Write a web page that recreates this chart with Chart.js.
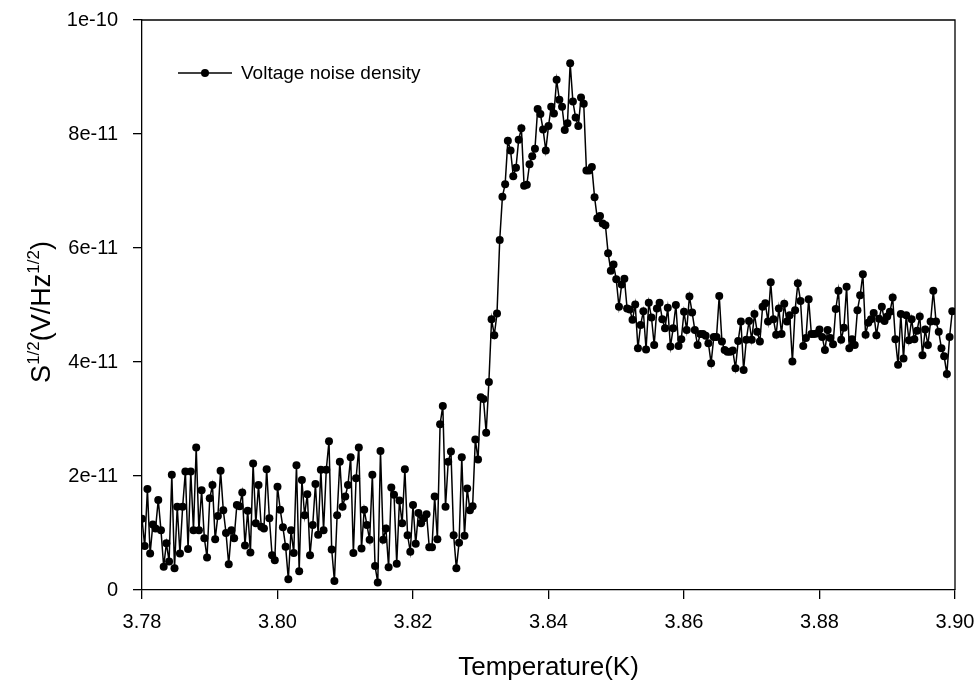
<!DOCTYPE html>
<html>
<head>
<meta charset="utf-8">
<script src="https://cdn.jsdelivr.net/npm/chart.js@4"></script>
<style>
	html, body { margin: 0; padding: 0; background: #ffffff; }
	#wrap { width: 980px; height: 684px; }
</style>
</head>
<body>
<div id="wrap"><canvas id="noiseChart" width="980" height="684"></canvas></div>
<script>
// temperature (K)
const temperature = [
	3.7800, 3.7804, 3.7808, 3.7812, 3.7816, 3.7820, 3.7824, 3.7828, 3.7832, 3.7836, 3.7840, 3.7844, 3.7848, 3.7852, 3.7856, 3.7860, 3.7864, 3.7868, 3.7872, 3.7876, 3.7880, 3.7884, 3.7888, 3.7892, 3.7896,
	3.7900, 3.7904, 3.7908, 3.7912, 3.7916, 3.7920, 3.7924, 3.7928, 3.7932, 3.7936, 3.7940, 3.7944, 3.7948, 3.7952, 3.7956, 3.7960, 3.7964, 3.7968, 3.7972, 3.7976, 3.7980, 3.7984, 3.7988, 3.7992, 3.7996,
	3.8000, 3.8004, 3.8008, 3.8012, 3.8016, 3.8020, 3.8024, 3.8028, 3.8032, 3.8036, 3.8040, 3.8044, 3.8048, 3.8052, 3.8056, 3.8060, 3.8064, 3.8068, 3.8072, 3.8076, 3.8080, 3.8084, 3.8088, 3.8092, 3.8096,
	3.8100, 3.8104, 3.8108, 3.8112, 3.8116, 3.8120, 3.8124, 3.8128, 3.8132, 3.8136, 3.8140, 3.8144, 3.8148, 3.8152, 3.8156, 3.8160, 3.8164, 3.8168, 3.8172, 3.8176, 3.8180, 3.8184, 3.8188, 3.8192, 3.8196,
	3.8200, 3.8204, 3.8208, 3.8212, 3.8216, 3.8220, 3.8224, 3.8228, 3.8232, 3.8236, 3.8240, 3.8244, 3.8248, 3.8252, 3.8256, 3.8260, 3.8264, 3.8268, 3.8272, 3.8276, 3.8280, 3.8284, 3.8288, 3.8292, 3.8296,
	3.8300, 3.8304, 3.8308, 3.8312, 3.8316, 3.8320, 3.8324, 3.8328, 3.8332, 3.8336, 3.8340, 3.8344, 3.8348, 3.8352, 3.8356, 3.8360, 3.8364, 3.8368, 3.8372, 3.8376, 3.8380, 3.8384, 3.8388, 3.8392, 3.8396,
	3.8400, 3.8404, 3.8408, 3.8412, 3.8416, 3.8420, 3.8424, 3.8428, 3.8432, 3.8436, 3.8440, 3.8444, 3.8448, 3.8452, 3.8456, 3.8460, 3.8464, 3.8468, 3.8472, 3.8476, 3.8480, 3.8484, 3.8488, 3.8492, 3.8496,
	3.8500, 3.8504, 3.8508, 3.8512, 3.8516, 3.8520, 3.8524, 3.8528, 3.8532, 3.8536, 3.8540, 3.8544, 3.8548, 3.8552, 3.8556, 3.8560, 3.8564, 3.8568, 3.8572, 3.8576, 3.8580, 3.8584, 3.8588, 3.8592, 3.8596,
	3.8600, 3.8604, 3.8608, 3.8612, 3.8616, 3.8620, 3.8624, 3.8628, 3.8632, 3.8636, 3.8640, 3.8644, 3.8648, 3.8652, 3.8656, 3.8660, 3.8664, 3.8668, 3.8672, 3.8676, 3.8680, 3.8684, 3.8688, 3.8692, 3.8696,
	3.8700, 3.8704, 3.8708, 3.8712, 3.8716, 3.8720, 3.8724, 3.8728, 3.8732, 3.8736, 3.8740, 3.8744, 3.8748, 3.8752, 3.8756, 3.8760, 3.8764, 3.8768, 3.8772, 3.8776, 3.8780, 3.8784, 3.8788, 3.8792, 3.8796,
	3.8800, 3.8804, 3.8808, 3.8812, 3.8816, 3.8820, 3.8824, 3.8828, 3.8832, 3.8836, 3.8840, 3.8844, 3.8848, 3.8852, 3.8856, 3.8860, 3.8864, 3.8868, 3.8872, 3.8876, 3.8880, 3.8884, 3.8888, 3.8892, 3.8896,
	3.8900, 3.8904, 3.8908, 3.8912, 3.8916, 3.8920, 3.8924, 3.8928, 3.8932, 3.8936, 3.8940, 3.8944, 3.8948, 3.8952, 3.8956, 3.8960, 3.8964, 3.8968, 3.8972, 3.8976, 3.8980, 3.8984, 3.8988, 3.8992, 3.8996
];

// voltage noise density, in units of 1e-11 V/Hz^1/2
const noiseDensity = [
	1.25, 0.77, 1.77, 0.64, 1.15, 1.08, 1.58, 1.05, 0.41, 0.82, 0.50, 2.02, 0.38, 1.46, 0.64, 1.46, 2.08, 0.72, 2.08, 1.05, 2.50, 1.05, 1.75, 0.91, 0.57,
	1.61, 1.84, 0.89, 1.30, 2.09, 1.40, 1.00, 0.45, 1.05, 0.91, 1.49, 1.47, 1.71, 0.78, 1.39, 0.66, 2.22, 1.17, 1.84, 1.11, 1.08, 2.12, 1.26, 0.61, 0.52,
	1.81, 1.41, 1.10, 0.76, 0.19, 1.05, 0.65, 2.19, 0.33, 1.93, 1.31, 1.68, 0.61, 1.14, 1.86, 0.97, 2.11, 1.05, 2.11, 2.61, 0.71, 0.16, 1.31, 2.25, 1.46,
	1.64, 1.84, 2.33, 0.65, 1.96, 2.50, 0.73, 1.41, 1.14, 0.88, 2.02, 0.42, 0.13, 2.44, 0.88, 1.08, 0.40, 1.80, 1.67, 0.46, 1.57, 1.17, 2.12, 0.96, 0.67,
	1.49, 0.81, 1.35, 1.17, 1.26, 1.33, 0.75, 0.75, 1.64, 0.89, 2.91, 3.23, 1.46, 2.25, 2.43, 0.96, 0.38, 0.83, 2.33, 0.95, 1.78, 1.40, 1.47, 2.64, 2.29,
	3.38, 3.35, 2.76, 3.65, 4.75, 4.47, 4.85, 6.14, 6.90, 7.12, 7.88, 7.71, 7.26, 7.41, 7.90, 8.10, 7.09, 7.11, 7.47, 7.61, 7.74, 8.44, 8.35, 8.08, 7.71,
	8.14, 8.48, 8.36, 8.95, 8.60, 8.48, 8.07, 8.19, 9.24, 8.57, 8.29, 8.14, 8.64, 8.53, 7.36, 7.36, 7.42, 6.89, 6.52, 6.56, 6.43, 6.40, 5.91, 5.60, 5.71,
	5.45, 4.97, 5.36, 5.46, 4.94, 4.92, 4.74, 5.01, 4.24, 4.65, 4.89, 4.22, 5.04, 4.78, 4.30, 4.94, 5.04, 4.75, 4.59, 4.95, 4.27, 4.59, 5.00, 4.28, 4.40,
	4.88, 4.56, 5.15, 4.87, 4.56, 4.30, 4.49, 4.49, 4.46, 4.33, 3.98, 4.44, 4.44, 5.16, 4.36, 4.21, 4.18, 4.18, 4.20, 3.89, 4.37, 4.71, 3.86, 4.39, 4.72,
	4.39, 4.84, 4.53, 4.36, 4.97, 5.03, 4.71, 5.40, 4.75, 4.48, 4.94, 4.49, 5.02, 4.71, 4.82, 4.01, 4.91, 5.38, 5.07, 4.28, 4.42, 5.10, 4.49, 4.49, 4.50,
	4.57, 4.44, 4.21, 4.56, 4.42, 4.31, 4.93, 5.25, 4.39, 4.60, 5.32, 4.24, 4.40, 4.30, 4.91, 5.17, 5.54, 4.48, 4.69, 4.75, 4.86, 4.47, 4.76, 4.97, 4.72,
	4.80, 4.88, 5.13, 4.40, 3.95, 4.84, 4.06, 4.82, 4.38, 4.75, 4.40, 4.55, 4.80, 4.12, 4.57, 4.30, 4.71, 5.25, 4.71, 4.53, 4.24, 4.10, 3.79, 4.44, 4.89
];

const xTickValues = [3.78, 3.80, 3.82, 3.84, 3.86, 3.88, 3.90];
const xTickLabels = ['3.78', '3.80', '3.82', '3.84', '3.86', '3.88', '3.90'];
const yTickValues = [0, 2, 4, 6, 8, 10];
const yTickLabels = ['0', '2e-11', '4e-11', '6e-11', '8e-11', '1e-10'];

const seriesLabel = 'Voltage noise density';
const xTitle = 'Temperature(K)';

const FONT = "'Liberation Sans', Arial, Helvetica, sans-serif";

// frame, legend and axis titles
const decorations = {
	id: 'decorations',
	afterDraw(chart) {
		const ctx = chart.ctx;
		const a = chart.chartArea;
		ctx.save();

		// box around plot
		ctx.strokeStyle = '#000';
		ctx.lineWidth = 1.3;
		ctx.beginPath();
		ctx.moveTo(a.left, a.top);
		ctx.lineTo(a.right, a.top);
		ctx.lineTo(a.right, a.bottom);
		ctx.stroke();

		// legend
		const ly = 73;
		ctx.lineWidth = 1.5;
		ctx.beginPath();
		ctx.moveTo(178, ly);
		ctx.lineTo(232, ly);
		ctx.stroke();
		ctx.fillStyle = '#000';
		ctx.beginPath();
		ctx.arc(205, ly, 4, 0, Math.PI * 2);
		ctx.fill();
		ctx.font = '19px ' + FONT;
		ctx.textBaseline = 'middle';
		ctx.textAlign = 'left';
		ctx.fillText(seriesLabel, 241, ly + 1);

		// x title
		ctx.font = '26px ' + FONT;
		ctx.textAlign = 'center';
		ctx.textBaseline = 'middle';
		ctx.fillText(xTitle, (a.left + a.right) / 2, 668);

		// y title with superscripts
		const parts = [
			{ t: 'S', sup: false },
			{ t: '1/2', sup: true },
			{ t: '(V/Hz', sup: false },
			{ t: '1/2', sup: true },
			{ t: ')', sup: false }
		];
		const big = '27px ' + FONT;
		const small = '17px ' + FONT;
		let total = 0;
		parts.forEach(p => {
			ctx.font = p.sup ? small : big;
			p.w = ctx.measureText(p.t).width;
			total += p.w;
		});
		ctx.translate(50, 312);
		ctx.rotate(-Math.PI / 2);
		ctx.textAlign = 'left';
		ctx.textBaseline = 'alphabetic';
		let x = -total / 2;
		parts.forEach(p => {
			ctx.font = p.sup ? small : big;
			ctx.fillText(p.t, x, p.sup ? -11 : 0);
			x += p.w;
		});
		ctx.restore();
	}
};

const ctx = document.getElementById('noiseChart').getContext('2d');

new Chart(ctx, {
	type: 'line',
	data: {
		datasets: [{
			label: seriesLabel,
			data: temperature.map((t, i) => ({ x: t, y: noiseDensity[i] })),
			borderColor: '#000',
			backgroundColor: '#000',
			borderWidth: 1.5,
			pointRadius: 4,
			pointBorderWidth: 0,
			pointBackgroundColor: '#000',
			tension: 0
		}]
	},
	options: {
		responsive: false,
		animation: false,
		devicePixelRatio: 1,
		layout: { padding: { top: 20, right: 25, bottom: 0, left: 0 } },
		plugins: {
			legend: { display: false },
			tooltip: { enabled: false }
		},
		scales: {
			x: {
				type: 'linear',
				min: 3.78,
				max: 3.90,
				afterBuildTicks: scale => { scale.ticks = xTickValues.map(v => ({ value: v })); },
				afterFit: scale => {
					scale.height = 94;
					scale.paddingLeft = 0;
					scale.paddingRight = 0;
				},
				ticks: {
					color: '#000',
					font: { family: FONT, size: 20 },
					padding: 11,
					maxRotation: 0,
					callback: (v, i) => xTickLabels[i]
				},
				grid: { drawOnChartArea: false, drawTicks: true, tickLength: 9, color: '#000', lineWidth: 1.3 },
				border: { display: true, color: '#000', width: 1.3 }
			},
			y: {
				type: 'linear',
				min: 0,
				max: 10,
				afterBuildTicks: scale => { scale.ticks = yTickValues.map(v => ({ value: v })); },
				afterFit: scale => {
					scale.width = 142;
					scale.paddingTop = 0;
					scale.paddingBottom = 0;
				},
				ticks: {
					color: '#000',
					font: { family: FONT, size: 20 },
					padding: 15,
					callback: (v, i) => yTickLabels[i]
				},
				grid: { drawOnChartArea: false, drawTicks: true, tickLength: 9, color: '#000', lineWidth: 1.3 },
				border: { display: true, color: '#000', width: 1.3 }
			}
		}
	},
	plugins: [decorations]
});
</script>
</body>
</html>
